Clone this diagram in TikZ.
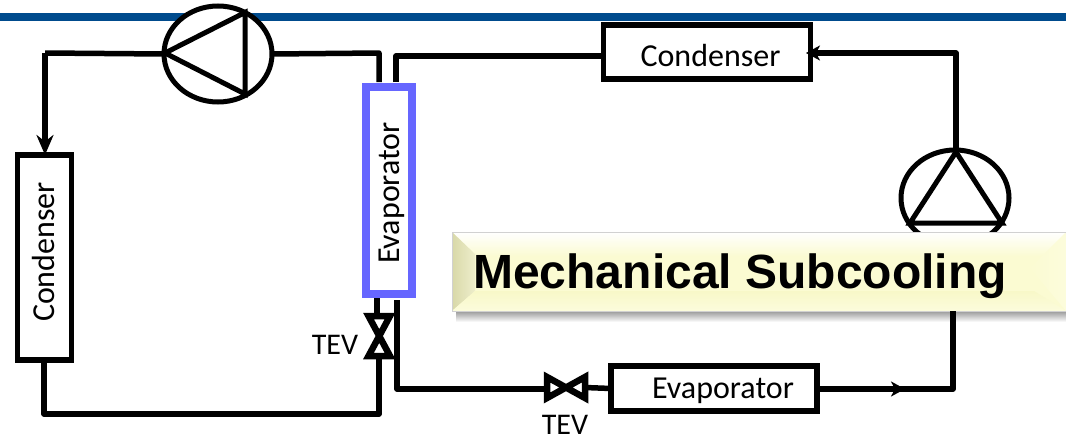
\documentclass[tikz,border=0pt]{standalone}
\usepackage{fontspec}
\setmainfont{Carlito}
\newfontfamily\titlefont{Liberation Sans}
\usetikzlibrary{shapes.geometric,arrows.meta,calc}
\definecolor{rulebl}{HTML}{004B8D}
\definecolor{evapbl}{HTML}{6666FF}
\definecolor{facey}{HTML}{FBFBD2}
\definecolor{bevA}{HTML}{D8D8A8}
\definecolor{bevB}{HTML}{EEEECB}
\definecolor{bevC}{HTML}{F8F8C8}
\definecolor{bevD}{HTML}{FCFCDC}
\tikzset{
  pipe/.style={line width=5.5pt,line join=round,draw=black},
  box/.style={draw=black,line width=5.5pt,fill=white,rectangle,outer sep=0pt,inner sep=0pt},
  pumpbody/.style={draw=black,line width=5pt,ellipse,fill=white,inner sep=0pt,outer sep=0pt,minimum width=108pt,minimum height=96pt},
  pumptri/.style={draw=black,line width=5pt,line join=miter},
  valve/.style={draw=black,line width=6.5pt,line join=miter},
  lbl/.style={font=\fontsize{32}{32}\selectfont,text=black,inner sep=0pt},
  tevlbl/.style={font=\fontsize{30}{30}\selectfont,text=black,inner sep=0pt},
  tiparrow/.style={-{Stealth[length=20pt,width=17pt]}},
  smalltip/.style={-{Stealth[length=14pt,width=15pt,inset=4pt]}}
}
\begin{document}
\begin{tikzpicture}[x=1pt,y=-1pt]
\useasboundingbox (0,0) rectangle (1066,442);
\fill[white] (0,0) rectangle (1066,442);
% header rule
\fill[rulebl] (0,12.5) rectangle (1066,20.5);
% components
\node[pumpbody] (pumpA) at (218,54) {};
\node[pumpbody] (pumpB) at (955,198) {};
\node[box,minimum width=54pt,minimum height=205pt] (condL) at (44.5,257.5) {};
\node[box,minimum width=207pt,minimum height=54pt] (condT) at (707,52) {};
\node[box,minimum width=206pt,minimum height=45pt] (evapR) at (714,388.5) {};
\node[box,draw=evapbl,line width=8pt,minimum width=46pt,minimum height=207pt] (evapM) at (389,190) {};
% pump triangles
\coordinate (a1) at (165,53);
\coordinate (a2) at (245,12.5);
\coordinate (a3) at (245,94);
\draw[pumptri] (a1) -- (a2) -- (a3) -- cycle;
\coordinate (b1) at (956,152);
\coordinate (b2) at (910,223);
\coordinate (b3) at (1002,223);
\draw[pumptri] (b1) -- (b2) -- (b3) -- cycle;
% left loop
\coordinate (l1) at (45,53);
\coordinate (l2) at (379,53);
\coordinate (l3) at (379,82);
\coordinate (l4) at (379,355);
\coordinate (l5) at (379,414);
\coordinate (l6) at (44,414);
\draw[pipe] (pumpA.west) -- (l1);
\draw[pipe,tiparrow] (l1) -- (l1 |- condL.north);
\draw[pipe] (pumpA.east) -- (l2) -- (l3);
\coordinate (v1top) at (377,298);
\coordinate (v1tl) at (368.5,316);
\coordinate (v1tr) at (390,316);
\coordinate (v1bl) at (390,356);
\coordinate (v1br) at (368.5,356);
\draw[pipe] (v1top) -- (377,316);
\draw[valve] (v1tl) -- (v1tr) -- (v1br) -- (v1bl) -- cycle;
\draw[pipe] (l4) -- (l5) -- (l6) -- (condL.south -| l6);
% right loop
\coordinate (r1) at (396,82);
\coordinate (r2) at (396,56);
\draw[pipe] (r1) -- (r2) -- (r2 -| condT.west);
\coordinate (r3) at (956,53);
\coordinate (r4) at (956,152);
\draw[pipe] (r4) -- (r3) -- (813,53);
\draw[pipe,smalltip] (840,53) -- (806,53);
\coordinate (r5) at (397,300);
\coordinate (r6) at (397,389);
\coordinate (v2l) at (546,389);
\coordinate (r7) at (953,389);
\coordinate (r8) at (953,311);
\draw[pipe] (r5) -- (r6) -- (v2l);
\draw[valve] (547,377) -- (547,398) -- (585,377) -- (585,398) -- cycle;
\draw[pipe] (585,387.5) -- (evapR.west);
\draw[pipe,smalltip] (870,389) -- (905,389);
% text
\node[lbl,anchor=center] (tCondT) at (710.5,56) {Condenser};
\node[lbl,anchor=center] (tEvapR) at (723,391) {Evaporator};
\node[lbl,rotate=90,anchor=center] (tCondL) at (44,252) {Condenser};
\node[lbl,rotate=90,anchor=center] (tEvapM) at (391.5,193) {Evaporator};
\node[tevlbl,anchor=center] (tev1) at (335,345) {TEV};
\node[tevlbl,anchor=center] (tev2) at (565,425) {TEV};
% title plate with shadow
\shade[top color=black!40,bottom color=white] (456,311) rectangle (1066,322);
\fill[facey] (452,232) rectangle (1066,311);
\shade[top color=white,bottom color=facey] (452,232) rectangle (1066,256);
\shade[left color=bevA,right color=bevB] (452,232) -- (475,254) -- (475,291) -- (452,311) -- cycle;
\shade[top color=bevC,bottom color=bevD] (452,311) -- (475,291) -- (1034,291) -- (1066,311) -- cycle;
\shade[left color=facey,right color=bevD] (1066,232) -- (1030,268) -- (1066,311) -- cycle;
\draw[black!18,line width=0.7pt] (452,232) rectangle (1066,311);
\node[font=\titlefont\bfseries\fontsize{48}{48}\selectfont,text=black,inner sep=0pt,anchor=center] (title) at (740,276) {Mechanical Subcooling};
\draw[pipe] (r8) -- (r7) -- (evapR.east |- r7);
\end{tikzpicture}
\end{document}
